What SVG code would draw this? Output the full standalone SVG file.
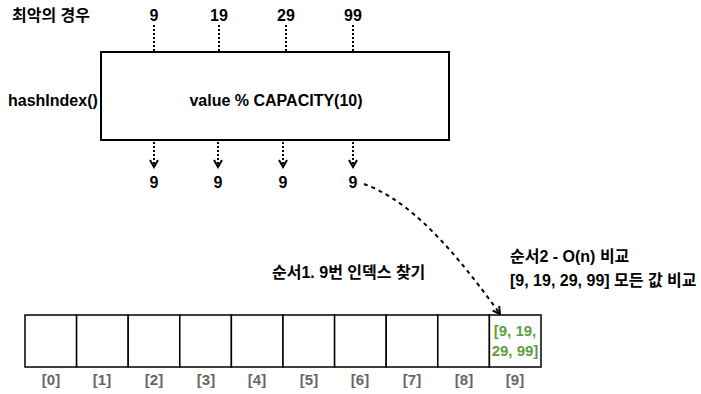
<svg xmlns="http://www.w3.org/2000/svg" width="701" height="394" viewBox="0 0 701 394">
<style>
.t{font-family:"Liberation Sans","Noto Sans CJK KR",sans-serif;font-size:16px;font-weight:bold;fill:#000}
.k{font-family:"Liberation Sans","Noto Sans CJK KR",sans-serif;font-size:16px;font-weight:bold;fill:#000}
.m{text-anchor:middle}
.dot{stroke:#000;stroke-width:2;stroke-dasharray:2 2;fill:none}
.dash{stroke:#000;stroke-width:2;stroke-dasharray:4 4;fill:none}
.cell{fill:#fff;stroke:#000;stroke-width:1.5}
.idx{font-family:"Liberation Sans",sans-serif;font-size:15px;font-weight:bold;fill:#666;text-anchor:middle}
.g{font-family:"Liberation Sans",sans-serif;font-size:15px;font-weight:bold;fill:#5d9f3e;text-anchor:middle}
</style>
<defs>
<marker id="ah" viewBox="0 0 10 10" refX="8" refY="5" markerWidth="10" markerHeight="10" markerUnits="userSpaceOnUse" orient="auto">
<path d="M1,1 L8,5 L1,9" fill="none" stroke="#000" stroke-width="2"/>
</marker>
</defs>
<rect width="701" height="394" fill="#fff"/>
<g id="labels">
<text class="k" x="12" y="21">최악의 경우</text>
<text class="t" x="8" y="106" font-size="15.5">hashIndex()</text>
</g>
<g id="inputs">
<text class="t m" x="154" y="21">9</text>
<text class="t m" x="219" y="21">19</text>
<text class="t m" x="286" y="21">29</text>
<text class="t m" x="353" y="21">99</text>
</g>
<g id="hashBox">
<rect x="101" y="52" width="348" height="88" fill="#fff" stroke="#000" stroke-width="2"/>
<text class="t m" x="276" y="106">value % CAPACITY(10)</text>
</g>
<g id="outputs">
<text class="t m" x="154" y="188">9</text>
<text class="t m" x="218" y="188">9</text>
<text class="t m" x="283" y="188">9</text>
<text class="t m" x="353" y="188">9</text>
</g>
<g id="array">
<rect class="cell" x="25" y="315" width="51.6" height="52"/>
<rect class="cell" x="76.6" y="315" width="51.6" height="52"/>
<rect class="cell" x="128.2" y="315" width="51.6" height="52"/>
<rect class="cell" x="179.8" y="315" width="51.6" height="52"/>
<rect class="cell" x="231.4" y="315" width="51.6" height="52"/>
<rect class="cell" x="283" y="315" width="51.6" height="52"/>
<rect class="cell" x="334.6" y="315" width="51.6" height="52"/>
<rect class="cell" x="386.2" y="315" width="51.6" height="52"/>
<rect class="cell" x="437.8" y="315" width="51.6" height="52"/>
<rect class="cell" x="489.4" y="315" width="51.6" height="52"/>
<text class="g" x="515" y="336">[9, 19,</text>
<text class="g" x="515" y="356">29, 99]</text>
<text class="idx" x="51" y="385">[0]</text>
<text class="idx" x="102" y="385">[1]</text>
<text class="idx" x="154" y="385">[2]</text>
<text class="idx" x="206" y="385">[3]</text>
<text class="idx" x="257" y="385">[4]</text>
<text class="idx" x="309" y="385">[5]</text>
<text class="idx" x="360" y="385">[6]</text>
<text class="idx" x="412" y="385">[7]</text>
<text class="idx" x="464" y="385">[8]</text>
<text class="idx" x="515" y="385">[9]</text>
</g>
<g id="steps">
<text class="k" x="272" y="278">순서1. 9번 인덱스 찾기</text>
<text class="k" x="510" y="262">순서2 - O(n) 비교</text>
<text class="k" x="510" y="286">[9, 19, 29, 99] 모든 값 비교</text>
</g>
<g id="connectors">
<line class="dot" x1="154" y1="25" x2="154" y2="51"/>
<line class="dot" x1="219" y1="25" x2="219" y2="51"/>
<line class="dot" x1="286" y1="25" x2="286" y2="51"/>
<line class="dot" x1="353" y1="25" x2="353" y2="51"/>
<line class="dot" x1="154" y1="142" x2="154" y2="167" marker-end="url(#ah)"/>
<line class="dot" x1="218" y1="142" x2="218" y2="167" marker-end="url(#ah)"/>
<line class="dot" x1="283" y1="142" x2="283" y2="167" marker-end="url(#ah)"/>
<line class="dot" x1="353" y1="142" x2="353" y2="167" marker-end="url(#ah)"/>
<path class="dash" d="M364,184 C400,197 440,230 500,314" marker-end="url(#ah)"/>
</g>
</svg>
